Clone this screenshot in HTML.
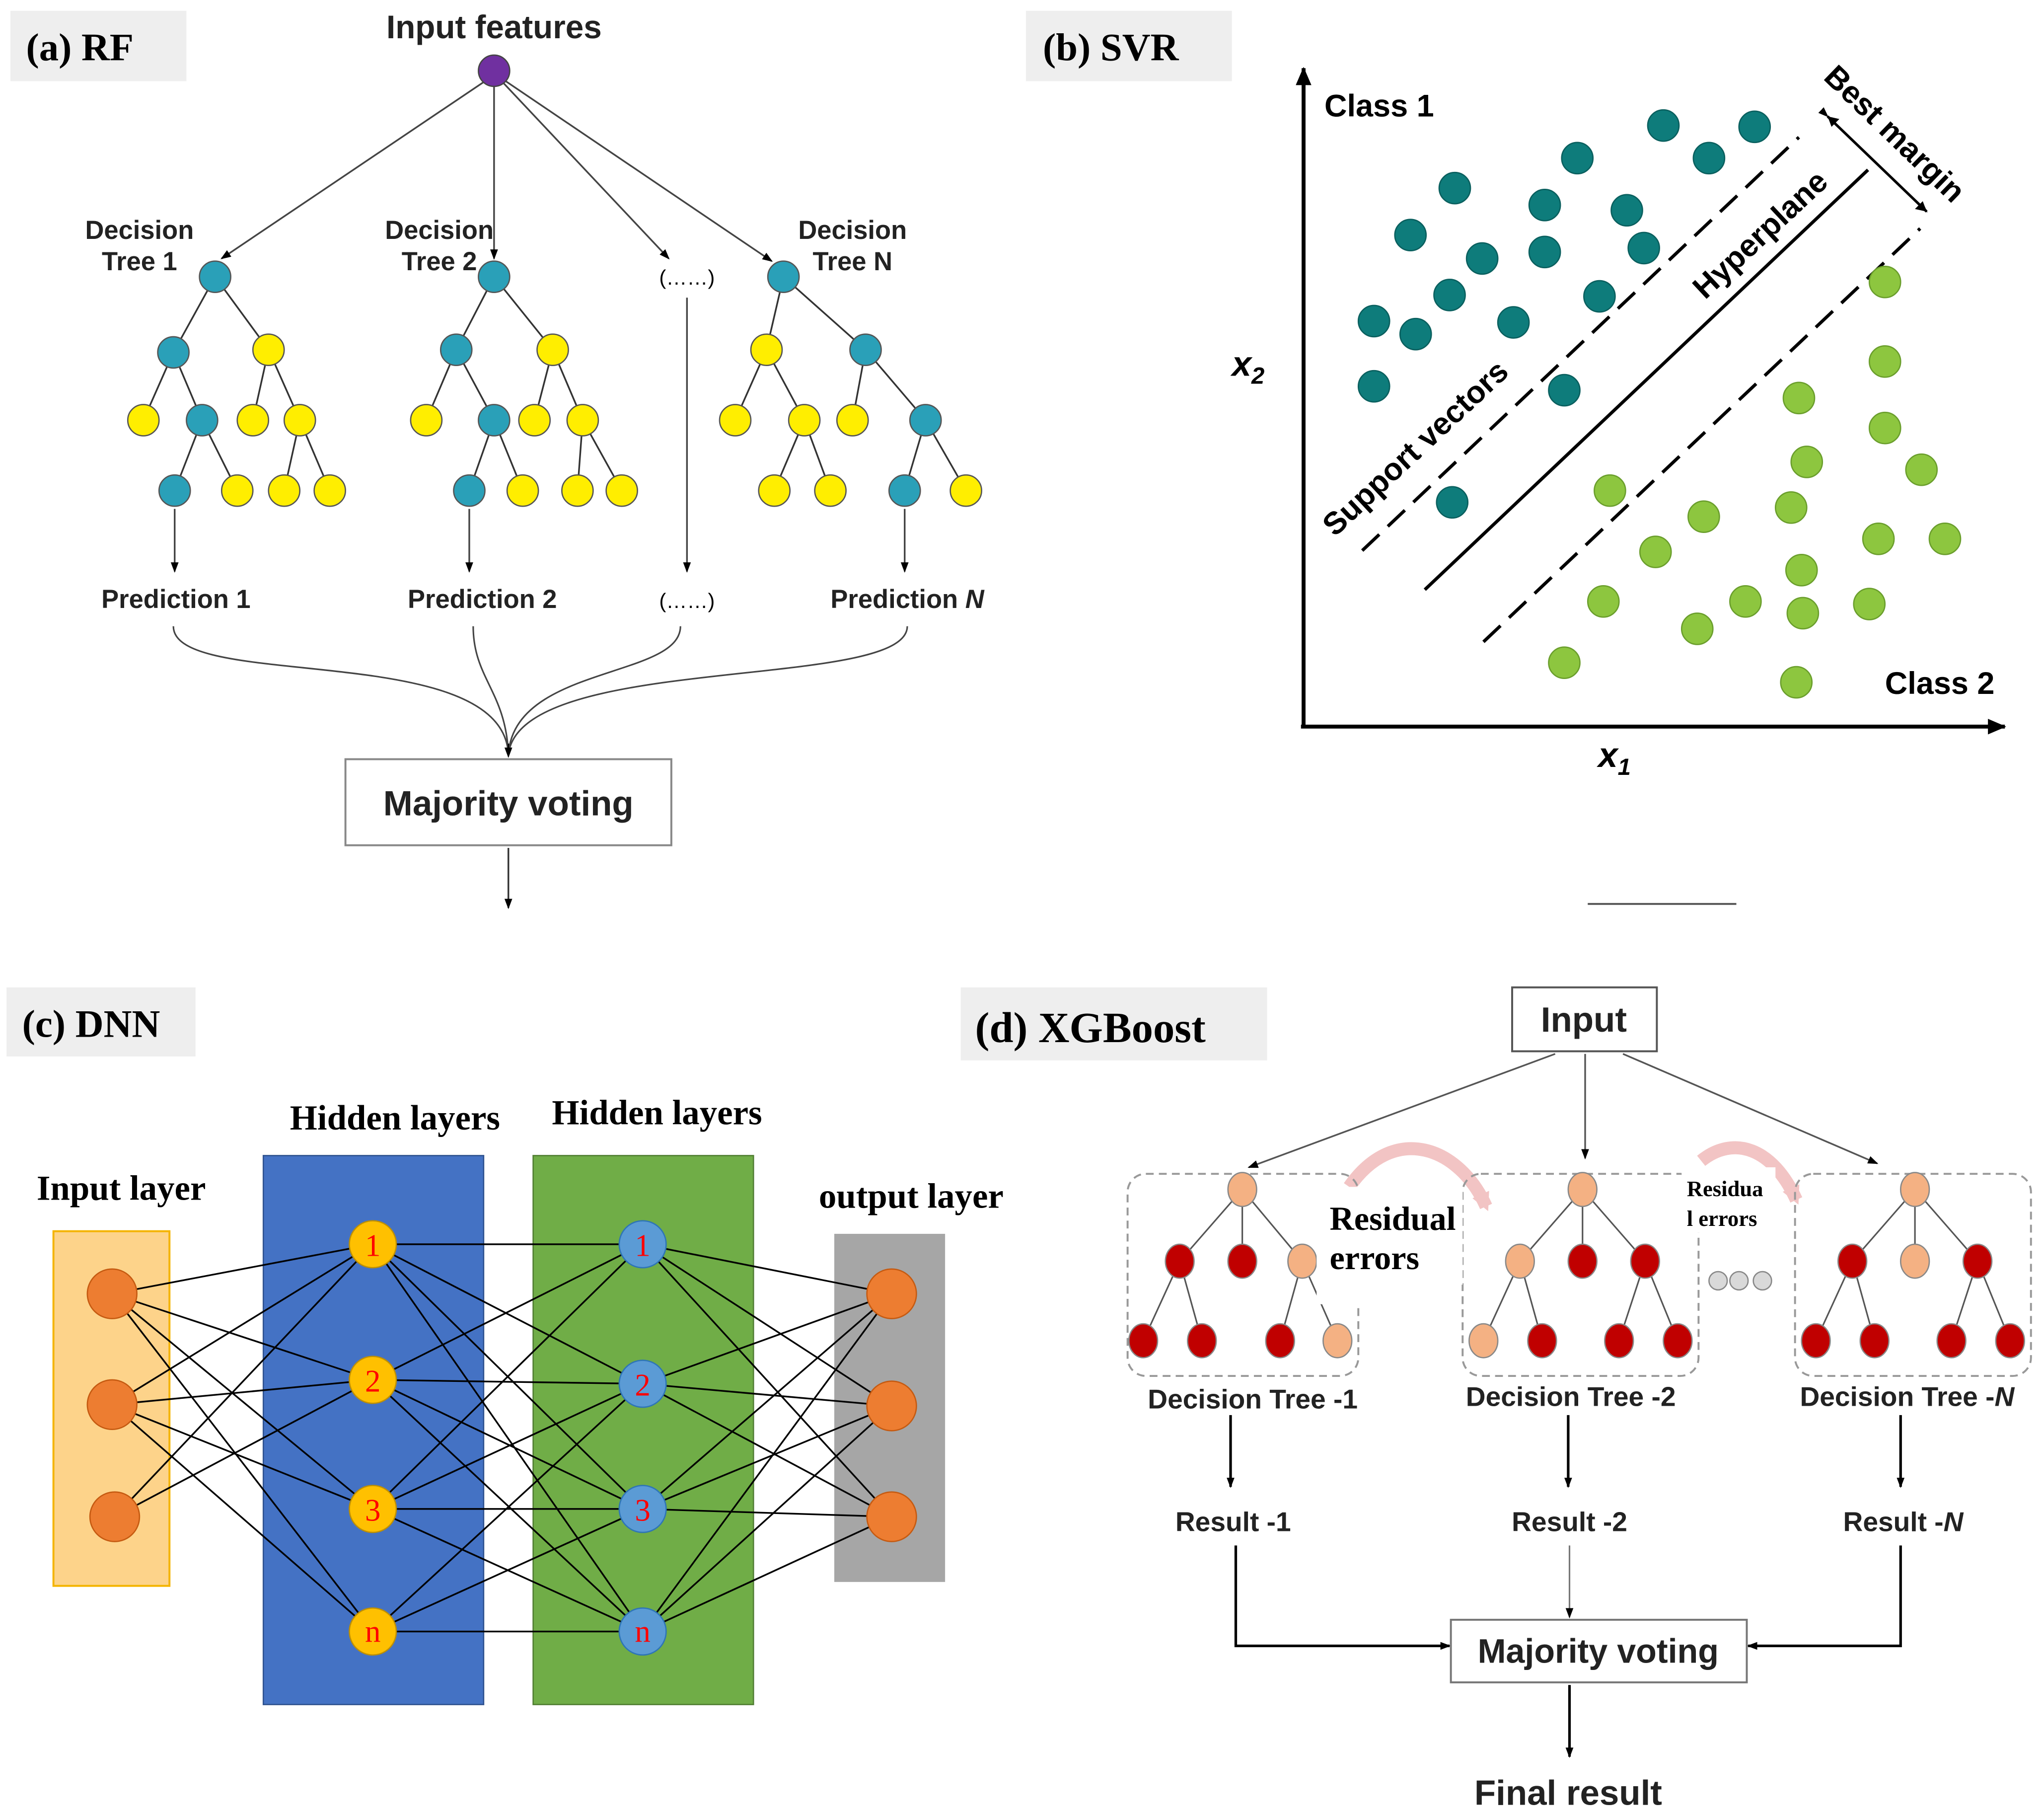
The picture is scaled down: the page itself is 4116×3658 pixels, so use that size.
<!DOCTYPE html>
<html><head><meta charset="utf-8"><style>
html,body{margin:0;padding:0;background:#fff}
svg{display:block}
.s{font-family:"Liberation Sans",sans-serif;font-weight:bold}
.r{font-family:"Liberation Serif",serif;font-weight:bold}
</style></head><body>
<svg width="4116" height="3658" viewBox="0 0 1568 1393" xmlns="http://www.w3.org/2000/svg">
<defs>
<marker id="a" markerWidth="8" markerHeight="8" refX="7" refY="4" orient="auto" markerUnits="userSpaceOnUse"><path d="M0,1 L8,4 L0,7 z" fill="#000"/></marker>
<marker id="b" markerWidth="14" markerHeight="12" refX="13" refY="6" orient="auto" markerUnits="userSpaceOnUse"><path d="M0,0 L14,6 L0,12 z" fill="#000"/></marker>
<marker id="p" markerWidth="16" markerHeight="14" refX="10" refY="7" orient="auto" markerUnits="userSpaceOnUse"><path d="M0,0 L14,7 L0,14 z" fill="#f2c4c4"/></marker>
</defs>
<rect width="1568" height="1393" fill="#fff"/>

<!-- (a) RF -->
<rect x="8" y="8" width="135" height="54" fill="#eeeeee"/>
<text x="20" y="46" class="r" font-size="30">(a) RF</text>
<text x="379" y="29" class="s" font-size="25" text-anchor="middle" fill="#222">Input features</text>
<g stroke="#444" stroke-width="1.3" fill="none" marker-end="url(#a)">
<line x1="375" y1="60" x2="170" y2="198"/>
<line x1="379" y1="62" x2="379" y2="198"/>
<line x1="383" y1="60" x2="513" y2="198"/>
<line x1="385" y1="60" x2="592" y2="200"/>
<line x1="527" y1="228" x2="527" y2="438"/>
<line x1="134" y1="390" x2="134" y2="438"/>
<line x1="360" y1="390" x2="360" y2="438"/>
<line x1="694" y1="390" x2="694" y2="438"/>
</g>
<circle cx="379" cy="54" r="12" fill="#7030a0" stroke="#444"/>
<g stroke="#333" stroke-width="1.3">
<line x1="165" y1="212" x2="133" y2="270"/><line x1="165" y1="212" x2="206" y2="268"/>
<line x1="133" y1="270" x2="110" y2="322"/><line x1="133" y1="270" x2="155" y2="322"/>
<line x1="206" y1="268" x2="194" y2="322"/><line x1="206" y1="268" x2="230" y2="322"/>
<line x1="155" y1="322" x2="134" y2="376"/><line x1="155" y1="322" x2="182" y2="376"/>
<line x1="230" y1="322" x2="218" y2="376"/><line x1="230" y1="322" x2="253" y2="376"/>
<line x1="379" y1="212" x2="350" y2="268"/><line x1="379" y1="212" x2="424" y2="268"/>
<line x1="350" y1="268" x2="327" y2="322"/><line x1="350" y1="268" x2="379" y2="322"/>
<line x1="424" y1="268" x2="410" y2="322"/><line x1="424" y1="268" x2="447" y2="322"/>
<line x1="379" y1="322" x2="360" y2="376"/><line x1="379" y1="322" x2="401" y2="376"/>
<line x1="447" y1="322" x2="443" y2="376"/><line x1="447" y1="322" x2="477" y2="376"/>
<line x1="601" y1="212" x2="588" y2="268"/><line x1="601" y1="212" x2="664" y2="268"/>
<line x1="588" y1="268" x2="564" y2="322"/><line x1="588" y1="268" x2="617" y2="322"/>
<line x1="664" y1="268" x2="654" y2="322"/><line x1="664" y1="268" x2="710" y2="322"/>
<line x1="617" y1="322" x2="594" y2="376"/><line x1="617" y1="322" x2="637" y2="376"/>
<line x1="710" y1="322" x2="694" y2="376"/><line x1="710" y1="322" x2="741" y2="376"/>
</g>
<g stroke="#555" stroke-width="1">
<g fill="#2aa0b8">
<circle cx="165" cy="212" r="12"/><circle cx="133" cy="270" r="12"/><circle cx="155" cy="322" r="12"/><circle cx="134" cy="376" r="12"/>
<circle cx="379" cy="212" r="12"/><circle cx="350" cy="268" r="12"/><circle cx="379" cy="322" r="12"/><circle cx="360" cy="376" r="12"/>
<circle cx="601" cy="212" r="12"/><circle cx="664" cy="268" r="12"/><circle cx="710" cy="322" r="12"/><circle cx="694" cy="376" r="12"/>
</g>
<g fill="#ffee00">
<circle cx="206" cy="268" r="12"/><circle cx="110" cy="322" r="12"/><circle cx="194" cy="322" r="12"/><circle cx="230" cy="322" r="12"/><circle cx="182" cy="376" r="12"/><circle cx="218" cy="376" r="12"/><circle cx="253" cy="376" r="12"/>
<circle cx="424" cy="268" r="12"/><circle cx="327" cy="322" r="12"/><circle cx="410" cy="322" r="12"/><circle cx="447" cy="322" r="12"/><circle cx="401" cy="376" r="12"/><circle cx="443" cy="376" r="12"/><circle cx="477" cy="376" r="12"/>
<circle cx="588" cy="268" r="12"/><circle cx="564" cy="322" r="12"/><circle cx="617" cy="322" r="12"/><circle cx="654" cy="322" r="12"/><circle cx="594" cy="376" r="12"/><circle cx="637" cy="376" r="12"/><circle cx="741" cy="376" r="12"/>
</g></g>
<g class="s" font-size="20" fill="#222" text-anchor="middle">
<text x="107" y="183">Decision</text><text x="107" y="207">Tree 1</text>
<text x="337" y="183">Decision</text><text x="337" y="207">Tree 2</text>
<text x="654" y="183">Decision</text><text x="654" y="207">Tree N</text>
<text x="135" y="466">Prediction 1</text>
<text x="370" y="466">Prediction 2</text>
<text x="696" y="466">Prediction <tspan font-style="italic">N</tspan></text>
</g>
<text x="527" y="218" font-family="Liberation Sans,sans-serif" font-size="16" text-anchor="middle">(……)</text>
<text x="527" y="466" font-family="Liberation Sans,sans-serif" font-size="16" text-anchor="middle">(……)</text>
<g stroke="#444" stroke-width="1.2" fill="none">
<path d="M133,480 C133,530 385,490 390,578"/>
<path d="M363,480 C363,520 388,530 390,578"/>
<path d="M522,480 C522,520 395,510 390,578"/>
<path d="M696,480 C696,530 400,500 390,578"/>
</g>
<path d="M390,570 L390,580" stroke="#000" marker-end="url(#a)"/>
<rect x="265" y="582" width="250" height="66" fill="#fff" stroke="#888" stroke-width="1.5"/>
<text x="390" y="625" class="s" font-size="27" text-anchor="middle" fill="#222">Majority voting</text>
<line x1="390" y1="650" x2="390" y2="696" stroke="#333" stroke-width="1.3" marker-end="url(#a)"/>
<line x1="1218" y1="693" x2="1332" y2="693" stroke="#555" stroke-width="1.5"/>

<!-- (b) SVR -->
<rect x="787" y="8" width="158" height="54" fill="#eeeeee"/>
<text x="800" y="46" class="r" font-size="30">(b) SVR</text>
<line x1="1000" y1="557" x2="1000" y2="52" stroke="#000" stroke-width="3" marker-end="url(#b)"/>
<line x1="998" y1="557" x2="1538" y2="557" stroke="#000" stroke-width="3" marker-end="url(#b)"/>
<text x="1016" y="89" class="s" font-size="24">Class 1</text>
<text x="1446" y="532" class="s" font-size="24">Class 2</text>
<text x="945" y="288" class="s" font-size="27" font-style="italic">x<tspan font-size="18" dy="6">2</tspan></text>
<text x="1226" y="588" class="s" font-size="27" font-style="italic">x<tspan font-size="18" dy="6">1</tspan></text>
<g stroke="#000" stroke-width="2.5">
<line x1="1045" y1="422" x2="1380" y2="105" stroke-dasharray="18,9"/>
<line x1="1093" y1="452" x2="1433" y2="130"/>
<line x1="1138" y1="492" x2="1473" y2="175" stroke-dasharray="18,9"/>
</g>
<line x1="1402" y1="89" x2="1478" y2="162" stroke="#000" stroke-width="2" marker-end="url(#a)" marker-start="url(#a)"/>
<path d="M1478,162 l-9,-2 l6,-6z M1402,89 l9,2 l-6,6z" fill="#000"/>
<text transform="translate(1024,412) rotate(-43)" class="s" font-size="24">Support vectors</text>
<text transform="translate(1308,230) rotate(-43)" class="s" font-size="24">Hyperplane</text>
<text transform="translate(1398,60) rotate(44)" class="s" font-size="24">Best margin</text>
<g fill="#0e7c7b" stroke="#0a5f5e">
<circle cx="1276" cy="96" r="12"/><circle cx="1346" cy="97" r="12"/><circle cx="1210" cy="121" r="12"/><circle cx="1311" cy="121" r="12"/><circle cx="1116" cy="144" r="12"/><circle cx="1185" cy="157" r="12"/><circle cx="1248" cy="161" r="12"/><circle cx="1082" cy="180" r="12"/><circle cx="1137" cy="198" r="12"/><circle cx="1185" cy="193" r="12"/><circle cx="1261" cy="190" r="12"/><circle cx="1112" cy="226" r="12"/><circle cx="1227" cy="227" r="12"/><circle cx="1054" cy="246" r="12"/><circle cx="1086" cy="256" r="12"/><circle cx="1161" cy="247" r="12"/><circle cx="1054" cy="296" r="12"/><circle cx="1200" cy="299" r="12"/><circle cx="1114" cy="385" r="12"/>
</g>
<g fill="#8dc63f" stroke="#6a9e2c">
<circle cx="1446" cy="216" r="12"/><circle cx="1446" cy="277" r="12"/><circle cx="1380" cy="305" r="12"/><circle cx="1446" cy="328" r="12"/><circle cx="1386" cy="354" r="12"/><circle cx="1474" cy="360" r="12"/><circle cx="1235" cy="376" r="12"/><circle cx="1307" cy="396" r="12"/><circle cx="1374" cy="389" r="12"/><circle cx="1441" cy="413" r="12"/><circle cx="1492" cy="413" r="12"/><circle cx="1270" cy="423" r="12"/><circle cx="1382" cy="437" r="12"/><circle cx="1230" cy="461" r="12"/><circle cx="1339" cy="461" r="12"/><circle cx="1383" cy="470" r="12"/><circle cx="1434" cy="463" r="12"/><circle cx="1302" cy="482" r="12"/><circle cx="1200" cy="508" r="12"/><circle cx="1378" cy="523" r="12"/>
</g>

<!-- (c) DNN -->
<rect x="5" y="757" width="145" height="53" fill="#eeeeee"/>
<text x="17" y="795" class="r" font-size="30">(c) DNN</text>
<g class="r" font-size="27" text-anchor="middle">
<text x="93" y="920">Input layer</text>
<text x="303" y="866">Hidden layers</text>
<text x="504" y="862">Hidden layers</text>
<text x="699" y="926">output layer</text>
</g>
<rect x="41" y="944" width="89" height="272" fill="#fdd38a" stroke="#f4b400" stroke-width="1.5"/>
<rect x="202" y="886" width="169" height="421" fill="#4472c4" stroke="#2f528f"/>
<rect x="409" y="886" width="169" height="421" fill="#70ad47" stroke="#507e32"/>
<rect x="640" y="946" width="85" height="267" fill="#a6a6a6"/>
<g stroke="#000" stroke-width="1.3">
<path d="M86,992L286,954M86,992L286,1058M86,992L286,1157M86,992L286,1251
M86,1077L286,954M86,1077L286,1058M86,1077L286,1157M86,1077L286,1251
M88,1163L286,954M88,1163L286,1058"/>
<path d="M286,954L493,954M286,954L493,1061M286,954L493,1157M286,954L493,1251
M286,1058L493,954M286,1058L493,1061M286,1058L493,1157M286,1058L493,1251
M286,1157L493,954M286,1157L493,1061M286,1157L493,1157M286,1157L493,1251
M286,1251L493,1061M286,1251L493,1157M286,1251L493,1251"/>
<path d="M493,954L684,992M493,954L684,1078M493,954L684,1163
M493,1061L684,992M493,1061L684,1078M493,1061L684,1163
M493,1157L684,992M493,1157L684,1078M493,1157L684,1163
M493,1251L684,992M493,1251L684,1078M493,1251L684,1163"/>
</g>
<g fill="#ed7d31" stroke="#c55a11">
<circle cx="86" cy="992" r="19"/><circle cx="86" cy="1077" r="19"/><circle cx="88" cy="1163" r="19"/>
<circle cx="684" cy="992" r="19"/><circle cx="684" cy="1078" r="19"/><circle cx="684" cy="1163" r="19"/>
</g>
<g fill="#ffc000" stroke="#bf9000"><circle cx="286" cy="954" r="18"/><circle cx="286" cy="1058" r="18"/><circle cx="286" cy="1157" r="18"/><circle cx="286" cy="1251" r="18"/></g>
<g fill="#5b9bd5" stroke="#2e75b6"><circle cx="493" cy="954" r="18"/><circle cx="493" cy="1061" r="18"/><circle cx="493" cy="1157" r="18"/><circle cx="493" cy="1251" r="18"/></g>
<g font-family="Liberation Serif,serif" font-size="24" fill="#ff0000" text-anchor="middle">
<text x="286" y="963">1</text><text x="286" y="1067">2</text><text x="286" y="1166">3</text><text x="286" y="1259">n</text>
<text x="493" y="963">1</text><text x="493" y="1070">2</text><text x="493" y="1166">3</text><text x="493" y="1259">n</text>
</g>

<!-- (d) XGBoost -->
<rect x="737" y="757" width="235" height="56" fill="#eeeeee"/>
<text x="748" y="799" class="r" font-size="33">(d) XGBoost</text>
<rect x="1160" y="757" width="111" height="49" fill="#fff" stroke="#555" stroke-width="1.5"/>
<text x="1215" y="791" class="s" font-size="27" text-anchor="middle" fill="#222">Input</text>
<g stroke="#555" stroke-width="1.3" marker-end="url(#a)">
<line x1="1193" y1="808" x2="958" y2="895"/>
<line x1="1216" y1="808" x2="1216" y2="888"/>
<line x1="1245" y1="808" x2="1440" y2="892"/>
</g>
<path d="M1035,910 C1070,860 1120,880 1140,925" stroke="#f2c4c4" stroke-width="10" fill="none" marker-end="url(#p)"/>
<path d="M1305,890 C1330,870 1360,880 1378,920" stroke="#f2c4c4" stroke-width="10" fill="none" marker-end="url(#p)"/>
<g fill="none" stroke="#999" stroke-width="1.5" stroke-dasharray="6,4">
<rect x="865" y="900" width="177" height="155" rx="14"/>
<rect x="1122" y="900" width="181" height="155" rx="14"/>
<rect x="1377" y="900" width="181" height="155" rx="14"/>
</g>
<g stroke="#555" stroke-width="1.2">
<path d="M953,912L905,967M953,912L953,967M953,912L999,967M905,967L877,1028M905,967L922,1028M999,967L982,1028M999,967L1026,1028"/>
<path d="M1214,912L1166,967M1214,912L1214,967M1214,912L1262,967M1166,967L1138,1028M1166,967L1183,1028M1262,967L1242,1028M1262,967L1287,1028"/>
<path d="M1469,912L1421,967M1469,912L1469,967M1469,912L1517,967M1421,967L1393,1028M1421,967L1438,1028M1517,967L1497,1028M1517,967L1542,1028"/>
</g>
<g stroke="#888" stroke-width="1">
<g fill="#f4b183">
<ellipse cx="953" cy="912" rx="11" ry="13"/><ellipse cx="999" cy="967" rx="11" ry="13"/><ellipse cx="1026" cy="1028" rx="11" ry="13"/>
<ellipse cx="1214" cy="912" rx="11" ry="13"/><ellipse cx="1166" cy="967" rx="11" ry="13"/><ellipse cx="1138" cy="1028" rx="11" ry="13"/>
<ellipse cx="1469" cy="912" rx="11" ry="13"/><ellipse cx="1469" cy="967" rx="11" ry="13"/>
</g>
<g fill="#c00000">
<ellipse cx="905" cy="967" rx="11" ry="13"/><ellipse cx="953" cy="967" rx="11" ry="13"/><ellipse cx="877" cy="1028" rx="11" ry="13"/><ellipse cx="922" cy="1028" rx="11" ry="13"/><ellipse cx="982" cy="1028" rx="11" ry="13"/>
<ellipse cx="1214" cy="967" rx="11" ry="13"/><ellipse cx="1262" cy="967" rx="11" ry="13"/><ellipse cx="1183" cy="1028" rx="11" ry="13"/><ellipse cx="1242" cy="1028" rx="11" ry="13"/><ellipse cx="1287" cy="1028" rx="11" ry="13"/>
<ellipse cx="1421" cy="967" rx="11" ry="13"/><ellipse cx="1517" cy="967" rx="11" ry="13"/><ellipse cx="1393" cy="1028" rx="11" ry="13"/><ellipse cx="1438" cy="1028" rx="11" ry="13"/><ellipse cx="1497" cy="1028" rx="11" ry="13"/><ellipse cx="1542" cy="1028" rx="11" ry="13"/>
</g>
<g fill="#d9d9d9"><circle cx="1318" cy="982" r="7"/><circle cx="1334" cy="982" r="7"/><circle cx="1352" cy="982" r="7"/></g>
</g>
<rect x="1012" y="910" width="110" height="75" fill="#fff"/>
<rect x="1010" y="960" width="36" height="40" fill="#fff"/>
<text x="1020" y="943" class="r" font-size="26">Residual</text>
<text x="1020" y="973" class="r" font-size="26">errors</text>
<rect x="1290" y="895" width="72" height="50" fill="#fff"/>
<text x="1294" y="917" class="r" font-size="17">Residua</text>
<text x="1294" y="940" class="r" font-size="17">l errors</text>
<g class="s" font-size="21" fill="#222" text-anchor="middle">
<text x="961" y="1080">Decision Tree -1</text>
<text x="1205" y="1078">Decision Tree -2</text>
<text x="1463" y="1078">Decision Tree -<tspan font-style="italic">N</tspan></text>
<text x="946" y="1174">Result -1</text>
<text x="1204" y="1174">Result -2</text>
<text x="1460" y="1174">Result -<tspan font-style="italic">N</tspan></text>
<text x="1203" y="1384" font-size="27">Final result</text>
</g>
<g stroke="#000" stroke-width="2" fill="none">
<line x1="944" y1="1085" x2="944" y2="1140" marker-end="url(#a)"/>
<line x1="1203" y1="1085" x2="1203" y2="1140" marker-end="url(#a)"/>
<line x1="1458" y1="1085" x2="1458" y2="1140" marker-end="url(#a)"/>
<path d="M948,1185 L948,1262 L1112,1262" marker-end="url(#a)"/>
<path d="M1458,1185 L1458,1262 L1341,1262" marker-end="url(#a)"/>
<line x1="1204" y1="1292" x2="1204" y2="1347" marker-end="url(#a)"/>
</g>
<line x1="1204" y1="1185" x2="1204" y2="1240" stroke="#777" stroke-width="1.2" marker-end="url(#a)"/>
<rect x="1113" y="1242" width="227" height="48" fill="#fff" stroke="#777" stroke-width="1.5"/>
<text x="1226" y="1275" class="s" font-size="26" text-anchor="middle" fill="#222">Majority voting</text>
</svg>
</body></html>
